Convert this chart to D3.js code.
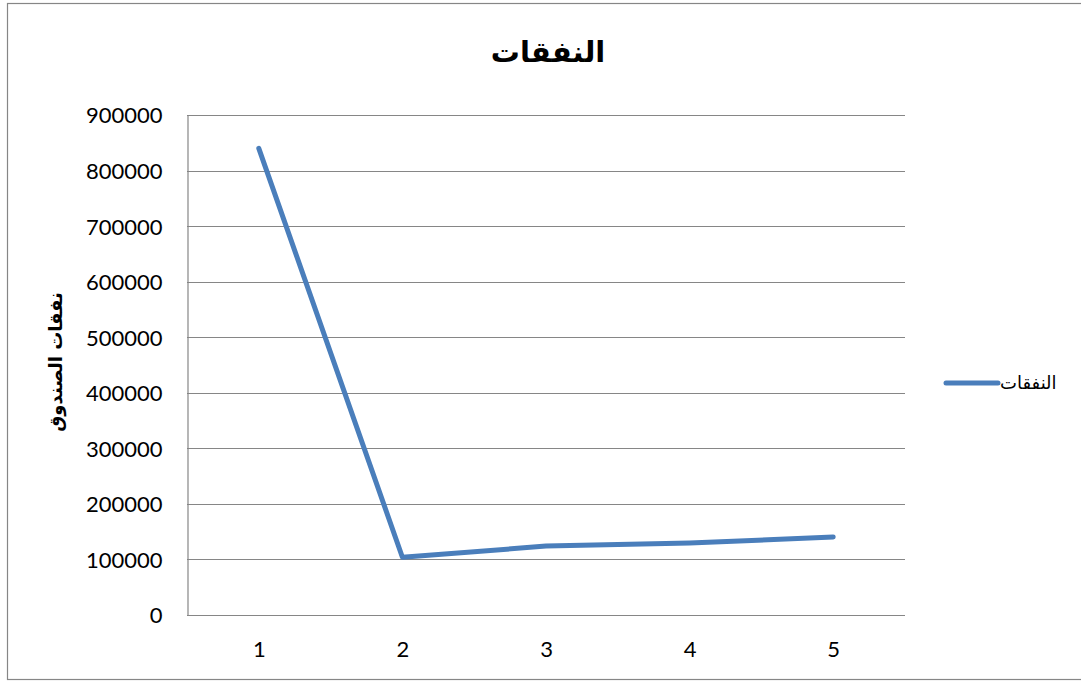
<!doctype html>
<html lang="ar">
<head>
  <meta charset="UTF-8">
  <title>النفقات</title>
  <style>
    body { margin: 0; background: #fff; }
    #app { position: relative; width: 1081px; height: 682px; }
    .tick text { font-family: Lato, "Liberation Sans", sans-serif; font-size: 22px; fill: #000; }
  </style>
</head>
<body>
<div id="app"></div>
<script src="https://cdn.jsdelivr.net/npm/d3@7/dist/d3.min.js"></script>
<script>
  var categories = [1, 2, 3, 4, 5];
  var spending = [840000, 104000, 124000, 129500, 140500];
  var yTicks = [0, 100000, 200000, 300000, 400000, 500000, 600000, 700000, 800000, 900000];
  var title = 'النفقات';
  var yLabel = 'نفقات الصندوق';
  var seriesName = 'النفقات';

  var width = 1081, height = 682;
  var plot = { left: 187, right: 905, top: 115, bottom: 615 };

  var svg = d3.select('#app').append('svg')
    .attr('width', width)
    .attr('height', height);

  // outer frame
  svg.append('rect')
    .attr('x', 7.5).attr('y', 3.5)
    .attr('width', 1090).attr('height', 676)
    .attr('fill', 'none')
    .attr('stroke', '#868686')
    .attr('stroke-width', 1.2);

  var x = d3.scalePoint()
    .domain(categories)
    .range([plot.left, plot.right])
    .padding(0.5);

  var y = d3.scaleLinear()
    .domain([0, 900000])
    .range([plot.bottom, plot.top]);

  // grid lines
  svg.append('g')
    .selectAll('line')
    .data(yTicks)
    .enter()
    .append('line')
    .attr('x1', plot.left)
    .attr('x2', plot.right)
    .attr('y1', d => Math.round(y(d)) + 0.5)
    .attr('y2', d => Math.round(y(d)) + 0.5)
    .attr('stroke', '#868686')
    .attr('stroke-width', 1.2);

  var yAxis = svg.append('g')
    .attr('transform', 'translate(' + (plot.left + 0.5) + ',0)')
    .call(d3.axisLeft(y).tickValues(yTicks).tickSize(0).tickPadding(25).tickFormat(d3.format('d')));
  yAxis.select('.domain').attr('stroke', '#868686').attr('stroke-width', 1.2);
  yAxis.selectAll('.tick text').attr('dy', '0.36em');

  var xAxis = svg.append('g')
    .attr('transform', 'translate(0,' + (plot.bottom + 0.5) + ')')
    .call(d3.axisBottom(x).tickSize(0).tickPadding(26));
  xAxis.select('.domain').remove();

  // series line
  var line = d3.line()
    .x((d, i) => x(categories[i]))
    .y(d => y(d));

  svg.append('path')
    .datum(spending)
    .attr('d', line)
    .attr('fill', 'none')
    .attr('stroke', '#4a7ebb')
    .attr('stroke-width', 5)
    .attr('stroke-linejoin', 'round')
    .attr('stroke-linecap', 'round');

  // title
  svg.append('text')
    .attr('x', 548)
    .attr('y', 62)
    .attr('text-anchor', 'middle')
    .style('font-family', '"DejaVu Sans", sans-serif')
    .style('font-weight', 'bold')
    .style('font-size', '29px')
    .text(title);

  // y axis label
  svg.append('text')
    .attr('transform', 'translate(62,362) rotate(-90)')
    .attr('text-anchor', 'middle')
    .style('font-family', '"DejaVu Sans", sans-serif')
    .style('font-weight', 'bold')
    .style('font-size', '18px')
    .text(yLabel);

  // legend
  svg.append('line')
    .attr('x1', 946).attr('x2', 998)
    .attr('y1', 383).attr('y2', 383)
    .attr('stroke', '#4a7ebb')
    .attr('stroke-width', 5)
    .attr('stroke-linecap', 'round');

  svg.append('text')
    .attr('x', 1000)
    .attr('y', 389)
    .attr('text-anchor', 'start')
    .style('font-family', '"DejaVu Sans", sans-serif')
    .style('font-size', '18px')
    .text(seriesName);
</script>
</body>
</html>
